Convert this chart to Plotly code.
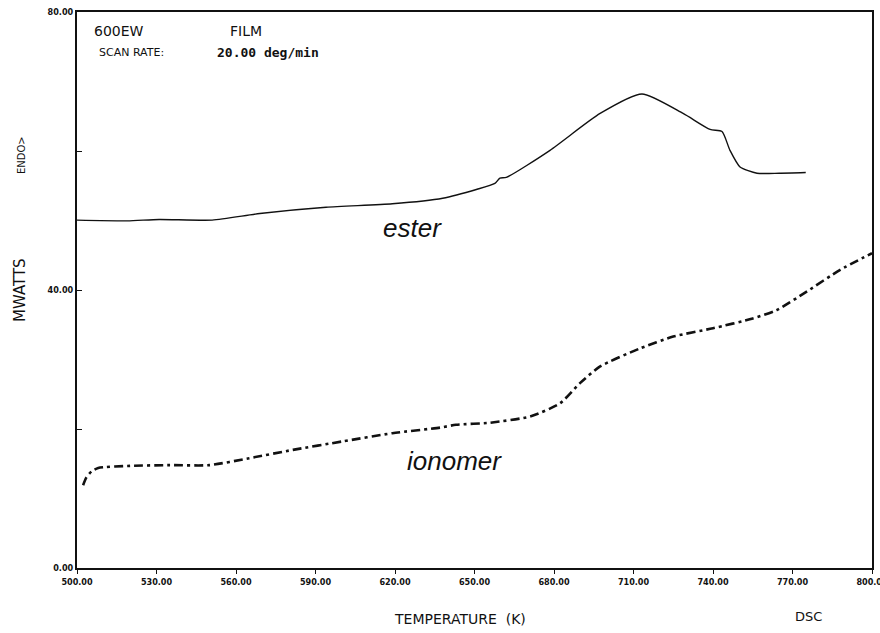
import plotly.graph_objects as go

# Ester DSC trace (temperature K, mW)
ester_T = [500, 519, 531, 551, 569, 594, 619, 638, 651, 657.7, 659.6, 662, 678.5, 697.4,
           713.2, 728.7, 738.9, 743.4, 746.4, 750.2, 756.6, 765, 775]
ester_mw = [50.05, 49.95, 50.15, 50.05, 51.0, 51.9, 52.4, 53.2, 54.5, 55.35, 56.1, 56.2, 60.1, 65.4,
            68.2, 65.4, 63.1, 62.8, 60.1, 57.7, 56.8, 56.8, 56.9]

# Ionomer DSC trace
ion_T = [502.3, 503.5, 505.5, 508, 520, 535, 550, 565, 581.5, 600, 619, 637, 643, 655.8, 671,
         682.3, 689.8, 697.4, 712.5, 725, 740, 755, 764, 775.5, 788, 800]
ion_mw = [11.9, 13.0, 13.9, 14.4, 14.7, 14.8, 14.8, 15.8, 17.0, 18.2, 19.4, 20.2, 20.6, 20.9, 21.8,
          23.7, 26.6, 29.0, 31.6, 33.3, 34.5, 35.9, 37.1, 39.8, 42.9, 45.3]

x_ticks = [500, 530, 560, 590, 620, 650, 680, 710, 740, 770, 800]
x_ticktext = ["500.00", "530.00", "560.00", "590.00", "620.00", "650.00", "680.00",
              "710.00", "740.00", "770.00", "800.00"]
y_ticks = [0, 20, 40, 60, 80]
y_ticktext = ["0.00", "", "40.00", "", "80.00"]

fig = go.Figure()
fig.add_trace(go.Scatter(x=ester_T, y=ester_mw, mode="lines",
                         line=dict(color="#111", width=1.4, shape="spline", smoothing=0.6),
                         showlegend=False))
fig.add_trace(go.Scatter(x=ion_T, y=ion_mw, mode="lines",
                         line=dict(color="#111", width=2.6, shape="spline", smoothing=0.6,
                                   dash="9px,4px,3px,4px"),
                         showlegend=False))

tickfont = dict(family="DejaVu Sans Condensed", size=9, color="#111", weight="bold")
fig.update_xaxes(range=[500, 800], tickvals=x_ticks, ticktext=x_ticktext, showgrid=False,
                 zeroline=False, showline=True, linecolor="#111", linewidth=2, mirror=True,
                 ticks="outside", ticklen=4, tickcolor="#111", tickfont=tickfont,
                 ticklabeloverflow="allow", automargin=False)
fig.update_yaxes(range=[0, 80], tickvals=y_ticks, ticktext=y_ticktext, showgrid=False,
                 zeroline=False, showline=True, linecolor="#111", linewidth=2, mirror=True,
                 ticks="inside", ticklen=5, tickcolor="#111", tickfont=tickfont,
                 ticklabeloverflow="allow", automargin=False)

ann_font = dict(family="DejaVu Sans", size=14, color="#111")
italic_font = dict(family="Liberation Sans", size=26, color="#111", style="italic")
anns = [
    dict(x=92, y=31, text="600EW", font=ann_font, xanchor="left"),
    dict(x=228, y=31, text="FILM", font=ann_font, xanchor="left"),
    dict(x=97, y=53, text="SCAN RATE:", font=dict(family="DejaVu Sans", size=11, color="#111"),
         xanchor="left"),
    dict(x=215, y=53, text="20.00 deg/min",
         font=dict(family="DejaVu Sans Mono", size=13, color="#111", weight="bold"), xanchor="left"),
    dict(x=412, y=228, text="ester", font=italic_font, xanchor="center"),
    dict(x=454, y=461, text="ionomer", font=italic_font, xanchor="center"),
    dict(x=22, y=155, text="ENDO>", font=dict(family="DejaVu Sans", size=10, color="#111"),
         textangle=-90, xanchor="center"),
    dict(x=20, y=290, text="MWATTS", font=dict(family="DejaVu Sans", size=15, color="#111"),
         textangle=-90, xanchor="center"),
    dict(x=460, y=619, text="TEMPERATURE  (K)", font=dict(family="DejaVu Sans", size=14, color="#111"),
         xanchor="center"),
    dict(x=808, y=617, text="DSC", font=dict(family="DejaVu Sans", size=13, color="#111"),
         xanchor="center"),
]
for a in anns:
    fig.add_annotation(xref="paper", yref="paper", showarrow=False, yanchor="middle",
                       **{k: v for k, v in a.items() if k not in ("x", "y")},
                       x=(a["x"] - 77) / 795, y=(568 - a["y"]) / 556)

fig.update_layout(width=880, height=633, margin=dict(l=77, r=8, t=12, b=65, autoexpand=False),
                  paper_bgcolor="white", plot_bgcolor="white")
fig.write_html("out.html", config={"displayModeBar": False},
               post_script="document.body.style.margin='0';document.body.style.overflow='hidden';")
